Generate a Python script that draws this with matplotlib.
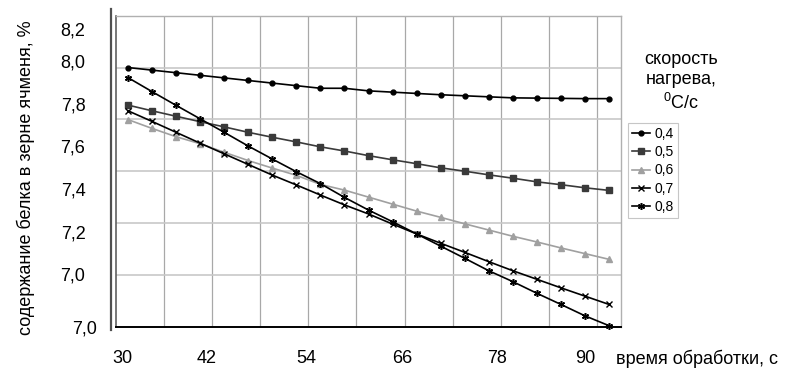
import matplotlib
matplotlib.use('Agg')
import matplotlib.pyplot as plt
from matplotlib.lines import Line2D
from matplotlib.transforms import ScaledTranslation

plt.rcParams['font.family'] = ['Liberation Sans', 'DejaVu Sans']
plt.rcParams['mathtext.fontset'] = 'custom'
plt.rcParams['mathtext.rm'] = 'Liberation Sans'

# время обработки, с (шаг 3 с)
time_s = [30, 33, 36, 39, 42, 45, 48, 51, 54, 57, 60,
          63, 66, 69, 72, 75, 78, 81, 84, 87, 90]

# содержание белка, % для разных скоростей нагрева
rate_04 = [8.00, 7.99, 7.98, 7.97, 7.96, 7.95, 7.94, 7.93, 7.92, 7.92, 7.91,
           7.905, 7.90, 7.895, 7.891, 7.887, 7.883, 7.882, 7.881, 7.880, 7.880]
rate_05 = [7.855, 7.833, 7.812, 7.791, 7.771, 7.750, 7.731, 7.713, 7.694, 7.678, 7.660,
           7.644, 7.629, 7.613, 7.600, 7.586, 7.573, 7.559, 7.548, 7.536, 7.526]
rate_06 = [7.799, 7.765, 7.733, 7.706, 7.673, 7.641, 7.612, 7.584, 7.549, 7.527, 7.500,
           7.473, 7.446, 7.422, 7.397, 7.373, 7.349, 7.327, 7.304, 7.282, 7.260]
rate_07 = [7.833, 7.792, 7.750, 7.708, 7.667, 7.626, 7.585, 7.547, 7.508, 7.470, 7.435,
           7.396, 7.358, 7.322, 7.287, 7.251, 7.216, 7.183, 7.150, 7.118, 7.086]
rate_08 = [7.961, 7.907, 7.854, 7.802, 7.750, 7.697, 7.647, 7.598, 7.552, 7.499, 7.450,
           7.405, 7.358, 7.311, 7.264, 7.216, 7.174, 7.129, 7.086, 7.042, 7.004]

series_labels = ['0,4', '0,5', '0,6', '0,7', '0,8']

# подписи осей в том виде, как на исходном рисунке
x_tick_labels = ['30', '42', '54', '66', '78', '90']
x_tick_pos = [29.3, 39.85, 52.3, 64.2, 76.0, 87.1]
y_tick_labels = ['8,2', '8,0', '7,8', '7,6', '7,4', '7,2', '7,0', '7,0']
y_tick_pos = [8.149, 8.025, 7.859, 7.697, 7.531, 7.367, 7.203, 7.0]

fig = plt.figure(figsize=(7.97, 3.87), dpi=100)
ax = fig.add_axes([116 / 797, 1 - 326.7 / 387, 505 / 797, 311 / 387])

ax.set_xlim(28.5, 91.5)
ax.set_ylim(7.0, 8.2)

# сетка
for gx in range(0, 10):
    ax.axvline(34.5 + 6 * gx, color='#a8a8a8', lw=0.9, zorder=0)
for gy in [7.2, 7.4, 7.6, 7.8, 8.0]:
    ax.axhline(gy, color='#c8c8c8', lw=1.2, zorder=0)

styles = [
    dict(color='black', marker='o', markersize=3.5),
    dict(color='#3a3a3a', marker='s', markersize=4.5),
    dict(color='#a0a0a0', marker='^', markersize=4.5),
    dict(color='black', marker='x', markersize=4.5, markeredgewidth=1.0),
    dict(color='black', marker=(6, 2, 0), markersize=5, markeredgewidth=1.1),
]
for vals, lab, st in zip([rate_04, rate_05, rate_06, rate_07, rate_08], series_labels, styles):
    ax.plot(time_s, vals, lw=1.2, label=lab, clip_on=False, zorder=3, **st)

ax.set_xticks(x_tick_pos)
ax.set_xticklabels(x_tick_labels, fontsize=13)
ax.set_yticks(y_tick_pos)
ax.set_yticklabels(y_tick_labels, fontsize=13)
ax.tick_params(axis='x', length=0, pad=17)
ax.tick_params(axis='y', length=0, pad=22)
last = ax.yaxis.get_major_ticks()[-1].label1
last.set_transform(last.get_transform() + ScaledTranslation(0.12, 0, fig.dpi_scale_trans))

for s in ['top', 'right']:
    ax.spines[s].set_color('#b0b0b0')
    ax.spines[s].set_linewidth(1.0)
ax.spines['bottom'].set_color('black')
ax.spines['bottom'].set_linewidth(1.4)
ax.spines['left'].set_color('#606060')
ax.spines['left'].set_linewidth(1.2)
ax.add_line(Line2D([-0.0095, -0.0095], [-0.01, 1.02], transform=ax.transAxes,
                   color='#505050', lw=1.6, clip_on=False))

fig.text(26 / 797, 1 - 178 / 387, 'содержание белка в зерне ячменя, %',
         rotation=90, ha='center', va='center', fontsize=13)
fig.text(697 / 797, 1 - 359 / 387, 'время обработки, с', ha='center', va='center', fontsize=13)
fig.text(681 / 797, 1 - 82 / 387, 'скорость\nнагрева,\n$^{0}$C/с', ha='center', va='center',
         fontsize=13, linespacing=1.3)

leg = fig.legend(loc='upper left', bbox_to_anchor=(628 / 797, 1 - 123 / 387),
                 fontsize=10, frameon=True, fancybox=False, handlelength=1.3,
                 handletextpad=0.3, borderpad=0.3, labelspacing=0.3, borderaxespad=0)
leg.get_frame().set_edgecolor('#b8b8b8')
leg.get_frame().set_linewidth(0.8)

fig.savefig('out.png', dpi=100)
